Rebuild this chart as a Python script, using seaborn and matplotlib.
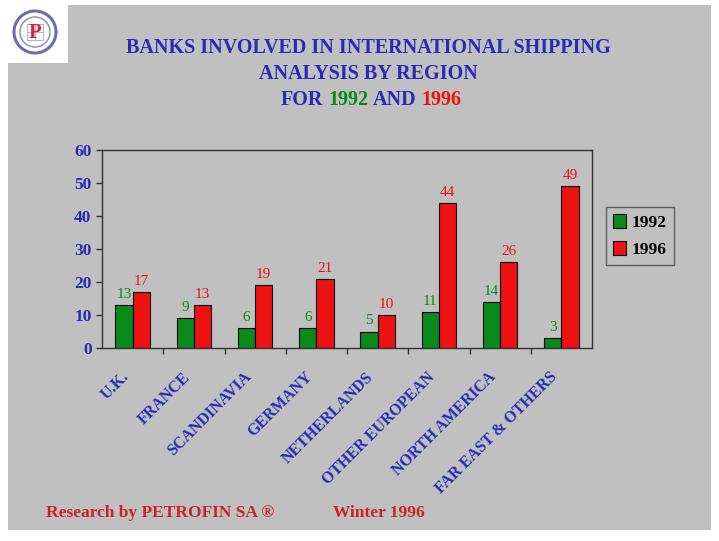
import pandas as pd
import matplotlib.pyplot as plt
import matplotlib.transforms as mtransforms
import seaborn as sns
from matplotlib.patches import Rectangle, Circle

# data
regions = ["U.K.", "FRANCE", "SCANDINAVIA", "GERMANY", "NETHERLANDS",
           "OTHER EUROPEAN", "NORTH AMERICA", "FAR EAST & OTHERS"]
banks_1992 = [13, 9, 6, 6, 5, 11, 14, 3]
banks_1996 = [17, 13, 19, 21, 10, 44, 26, 49]
years = ["1992", "1996"]

df = pd.DataFrame({
    "region": regions * 2,
    "year": [years[0]] * len(regions) + [years[1]] * len(regions),
    "banks": banks_1992 + banks_1996,
})

BG = "#c0c0c0"
BLUE = "#2a2ab8"
GREEN = "#0a8a1a"
RED = "#ee1111"
W, H = 719, 541

sns.set_theme(style="white")
plt.rcParams["font.family"] = ["Liberation Serif", "DejaVu Serif"]
plt.rcParams["font.weight"] = "bold"

fig = plt.figure(figsize=(7.19, 5.41), dpi=100)
fig.patch.set_facecolor("white")
bg = fig.add_axes([8 / W, 11 / H, 703 / W, 525 / H], zorder=-10)
bg.axis("off")
bg.add_patch(Rectangle((0, 0), 1, 1, transform=bg.transAxes, facecolor=BG,
                       edgecolor="none"))

# logo
lax = fig.add_axes([0, 1 - 63 / H, 68 / W, 63 / H], zorder=-5)
lax.set_xlim(0, 68)
lax.set_ylim(0, 63)
lax.add_patch(Rectangle((0, 0), 68, 63, facecolor="white", edgecolor="none"))
lax.axis("off")
lax.add_patch(Circle((35, 31), 21, fill=False, edgecolor="#6a6fa8", lw=2.2))
lax.add_patch(Circle((35, 31), 15, fill=False, edgecolor="#8888bb", lw=1))
for d in (-8, 0, 8):
    lax.plot([27, 43], [31 + d, 31 + d], color="#b0a0c8", lw=0.6)
    lax.plot([35 + d, 35 + d], [23, 39], color="#b0a0c8", lw=0.6)
lax.text(35, 30, "P", color="#cc2244", fontsize=15, ha="center", va="center",
         fontweight="bold")

# titles
fig.text(368 / W, 1 - 48 / H, "BANKS INVOLVED IN INTERNATIONAL SHIPPING",
         ha="center", va="center", color=BLUE, fontsize=14.5)
fig.text(368 / W, 1 - 74 / H, "ANALYSIS BY REGION", ha="center", va="center",
         color=BLUE, fontsize=14.5)
prev = fig.text(281 / W, 1 - 100 / H, "FOR", ha="left", va="center",
                color=BLUE, fontsize=14.5)
for word, col in [("1992", GREEN), ("AND", BLUE), ("1996", RED)]:
    prev = fig.add_artist(plt.Annotation(word, xy=(1, 0.5), xycoords=prev,
                                         xytext=(3.5, 0),
                                         textcoords="offset points",
                                         ha="left", va="center", color=col,
                                         fontsize=14.5, fontweight="bold"))

ax = fig.add_axes([102 / W, 1 - 348 / H, 490 / W, 198 / H])
ax.set_facecolor(BG)
sns.barplot(data=df, x="region", y="banks", hue="year", order=regions,
            hue_order=years, palette=[GREEN, RED], width=0.56,
            edgecolor="black", linewidth=0.8, saturation=1, ax=ax)

ax.set_ylim(0, 60)
ax.set_yticks(range(0, 61, 10))
ax.set_xlim(-0.5, len(regions) - 0.5)
ax.set_xlabel("")
ax.set_ylabel("")
for s in ax.spines.values():
    s.set_color("#333333")
    s.set_linewidth(1)

ax.tick_params(axis="y", colors="#333333", labelcolor=BLUE, labelsize=12.5,
               direction="out", length=4, left=True, width=1)
ax.set_xticks(range(len(regions)))
ax.set_xticklabels(regions, rotation=45, ha="right", rotation_mode="anchor",
                   color=BLUE, fontsize=11.5)
ax.tick_params(axis="x", length=0, pad=8)
shift = mtransforms.ScaledTranslation(-12 / 100, -10 / 100, fig.dpi_scale_trans)
for lbl in ax.get_xticklabels():
    lbl.set_transform(lbl.get_transform() + shift)
ax.set_xticks([i + 0.5 for i in range(len(regions) - 1)], minor=True)
ax.tick_params(axis="x", which="minor", length=4, direction="out",
               bottom=True, color="#333333")
for lbl in ax.get_yticklabels():
    lbl.set_fontweight("bold")

for cont, col in zip(ax.containers, [GREEN, RED]):
    ax.bar_label(cont, color=col, fontsize=11, padding=3, fontweight="normal")

leg = ax.legend(loc="center left", bbox_to_anchor=(1.01, 0.565), frameon=True,
                fancybox=False, edgecolor="#444444", facecolor=BG,
                fontsize=12.5, handlelength=0.8, handleheight=0.8,
                handletextpad=0.3, borderpad=0.4, labelspacing=0.6)
leg.get_frame().set_linewidth(1)
for txt in leg.get_texts():
    txt.set_color("black")

fig.text(46 / W, 1 - 513 / H, "Research by PETROFIN SA \u00ae", color="#cc2222",
         fontsize=12.5, va="center", ha="left")
fig.text(333 / W, 1 - 513 / H, "Winter 1996", color="#cc2222",
         fontsize=12.5, va="center", ha="left")

fig.savefig("out.png", dpi=100, facecolor=fig.get_facecolor())
